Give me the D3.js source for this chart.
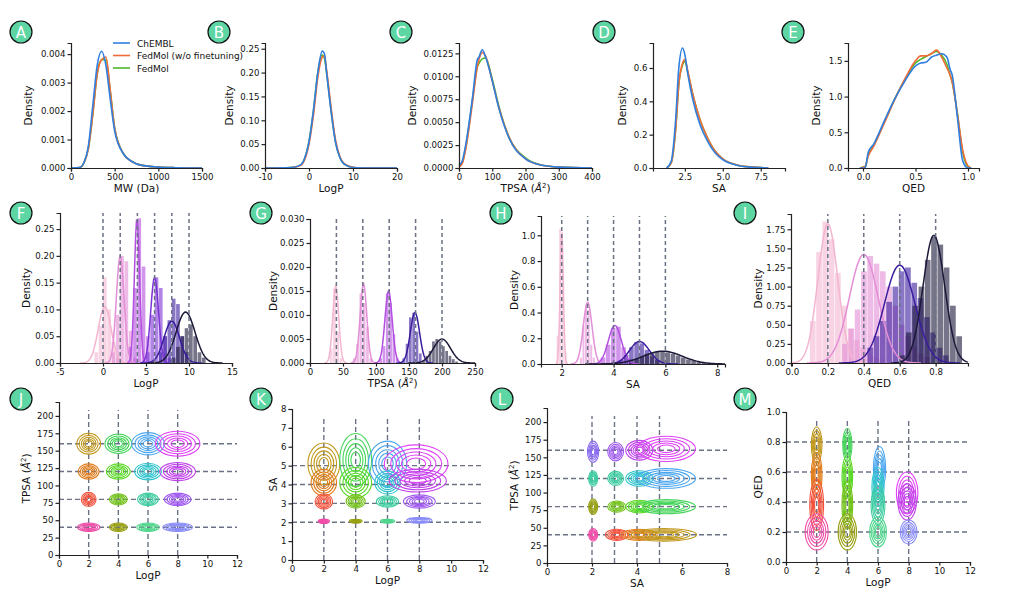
<!DOCTYPE html>
<html><head><meta charset="utf-8">
<script src="https://cdn.jsdelivr.net/npm/d3@7"></script>
<style>body{margin:0;background:#fff}text{font-family:"DejaVu Sans",sans-serif;fill:#111}</style>
</head><body><svg id="c" width="1013" height="609"></svg>
<script>
// ---------- Row 1 data ----------
const mwX=[0,100,150,200,250,300,350,400,450,500,600,700,800,1000,1200,1500];
const mwChembl=[0,0.00002,0.0002,0.0008,0.0022,0.0036,0.0041,0.0036,0.0024,0.0013,0.0005,0.00022,0.0001,0.00003,0.00001,0];
const mwFed0=[0,0.00002,0.0002,0.0007,0.0019,0.0033,0.0038,0.0039,0.0027,0.0014,0.0005,0.00022,0.0001,0.00003,0.00001,0];
const mwFed=[0,0.00002,0.0002,0.0007,0.0019,0.0033,0.0038,0.0038,0.0027,0.0014,0.0005,0.00023,0.0001,0.00003,0.00001,0];
const lpX=[-10,-4,-2,-1,0,1,2,3,3.5,4,5,6,7,8,10,12,20];
const lpChembl=[0,0.001,0.006,0.02,0.055,0.12,0.2,0.245,0.24,0.2,0.12,0.055,0.022,0.008,0.001,0,0];
const lpFed0=[0,0.001,0.005,0.017,0.05,0.11,0.19,0.232,0.235,0.205,0.128,0.06,0.024,0.009,0.0015,0,0];
const lpFed=[0,0.001,0.006,0.02,0.056,0.12,0.2,0.237,0.23,0.2,0.122,0.056,0.023,0.008,0.0012,0,0];
const tpX=[0,10,20,40,55,60,70,80,100,120,150,200,250,300,400];
const tpChembl=[0.0003,0.0008,0.0025,0.0075,0.0118,0.0121,0.0129,0.0121,0.0095,0.0065,0.0033,0.001,0.0003,0.0001,0];
const tpFed0=[0.0001,0.0005,0.002,0.007,0.011,0.0118,0.0126,0.0122,0.0095,0.0066,0.0034,0.001,0.0003,0.0001,0];
const tpFed=[0.0002,0.0006,0.0022,0.0073,0.011,0.0114,0.0119,0.012,0.0097,0.0067,0.0034,0.0011,0.0003,0.0001,0];
const saX=[1.3,1.6,1.9,2.1,2.35,2.5,2.7,3,3.5,4,4.5,5,6,7,8];
const saChembl=[0,0.04,0.3,0.6,0.72,0.68,0.56,0.42,0.26,0.16,0.09,0.05,0.015,0.004,0];
const saFed0=[0,0.03,0.24,0.5,0.63,0.65,0.58,0.45,0.29,0.18,0.1,0.055,0.017,0.005,0];
const saFed=[0,0.03,0.24,0.5,0.62,0.64,0.57,0.45,0.29,0.18,0.1,0.055,0.017,0.005,0];
const qX=[-0.03,0.02,0.05,0.1,0.2,0.3,0.4,0.5,0.55,0.6,0.65,0.7,0.75,0.8,0.83,0.85,0.9,0.95,1.0,1.03];
const qChembl=[0,0,0.22,0.33,0.65,0.96,1.22,1.43,1.47,1.48,1.55,1.58,1.6,1.55,1.38,1.3,0.7,0.1,0,0];
const qFed0=[0,0.02,0.17,0.3,0.62,0.95,1.25,1.5,1.57,1.57,1.6,1.65,1.55,1.4,1.3,1.2,0.75,0.25,0.03,0];
const qFed=[0,0.02,0.18,0.31,0.63,0.96,1.24,1.47,1.52,1.56,1.6,1.63,1.58,1.45,1.3,1.2,0.75,0.22,0.02,0];
const seriesNames=["ChEMBL","FedMol (w/o finetuning)","FedMol"];
const seriesColors=["#2f7fe0","#f26b38","#4cb82a"];

// ---------- Row 2 data: [mean, sd, peak] curve params, bars: x0, width, heights ----------
const distColors6=["#f3b5d0","#e38ed6","#b34fe0","#7c33d6","#3a1c9e","#1b1838"];
const fTargets=[0,2,4,6,8,10];
const fCurves=[[0.2,0.75,0.105],[2,0.45,0.2],[3.95,0.3,0.27],[6,0.45,0.16],[8,0.9,0.078],[9.6,1.1,0.095]];
const fBars=[[-1,0.5,[0.02,0.07,0.16,0.1,0.04,0.01]],[1,0.5,[0.02,0.09,0.2,0.19,0.06,0.01]],[3,0.5,[0.03,0.14,0.27,0.18,0.05]],[5,0.5,[0.02,0.09,0.16,0.14,0.05,0.01]],[6.5,0.5,[0.02,0.05,0.08,0.12,0.11,0.05,0.02]],[8,0.5,[0.01,0.03,0.05,0.065,0.072,0.05,0.02,0.01]]];
const gTargets=[40,80,120,160,200];
const gCurves=[[39,4.5,0.016],[81,5,0.0165],[119,5.5,0.015],[159,7,0.0105],[200,13,0.005]];
const gBars=[[30,5,[0.003,0.0155,0.0065,0.001]],[65,5,[0.001,0.004,0.0145,0.0125,0.0075,0.001]],[105,5,[0.001,0.0035,0.0145,0.0125,0.006,0.001]],[140,5,[0.001,0.004,0.0095,0.0105,0.0065,0.002]],[170,5,[0.0005,0.0015,0.0025,0.0045,0.005,0.0045,0.0035,0.0025,0.0015,0.0008,0.0003]]];
const hTargets=[2,3,4,5,6];
const hCurves=[[2,0.06,1.05],[3.0,0.17,0.48],[4.05,0.25,0.3],[5.0,0.38,0.175],[5.9,0.75,0.1]];
const hBars=[[1.8,0.1,[0.22,1.05,0.7,0.1]],[2.7,0.1,[0.05,0.3,0.46,0.42,0.15,0.05]],[3.5,0.2,[0.05,0.15,0.28,0.29,0.13,0.04]],[4.2,0.2,[0.03,0.07,0.13,0.17,0.16,0.11,0.06,0.03]],[4.6,0.2,[0.02,0.04,0.06,0.08,0.09,0.1,0.095,0.09,0.08,0.065,0.05,0.035,0.025,0.015,0.01,0.005]]];
const iTargets=[0.2,0.4,0.6,0.8];
const iCurves=[[0.2,0.055,1.82],[0.4,0.08,1.42],[0.6,0.085,1.28],[0.79,0.06,1.67]];
const iBars=[[0.1,0.035,[0.55,1.45,1.85,1.62,1.18,0.75,0.45,0.3,0.2,0.12,0.08,0.05]],[0.28,0.035,[0.25,0.45,0.7,1.2,1.4,1.3,1.2,1.0,0.75,0.5,0.35,0.22,0.12,0.08]],[0.42,0.035,[0.2,0.35,0.55,0.8,1.0,1.2,1.25,1.05,0.85,0.6,0.4,0.2,0.1]],[0.6,0.035,[0.1,0.4,0.75,1.0,1.35,1.65,1.55,1.25,0.75,0.35]]];

// ---------- Row 3 data: blobs [cx, cy, rx, ry, color] ----------
const C={gold:"#c0981c",green:"#45d45a",blue:"#4aa6f0",mag:"#e040f8",orange:"#e07c1c",lime:"#5ad826",cyan:"#2ec4cc",pmag:"#c042ea",red:"#f4503a",ygreen:"#72c21a",teal:"#3dcca0",purple:"#a05af0",pink:"#f04ca8",olive:"#98a012",gteal:"#4fd68c",lav:"#8a8cf8",vio:"#8a6cf0"};
const jBlobs=[[2,160,0.8,15,C.gold],[4,160,0.9,14,C.green],[6,160,1.1,16,C.blue],[8,160,1.5,18,C.mag],[2,120,0.7,11,C.orange],[4,120,0.8,11,C.lime],[6,120,0.9,12,C.cyan],[8,120,1.2,13,C.pmag],[2,80,0.5,10,C.red],[4,80,0.6,8,C.ygreen],[6,80,0.7,9,C.teal],[8,80,0.9,9,C.purple],[2,40,0.75,6,C.pink],[4,40,0.6,6,C.olive],[6,40,0.75,6,C.gteal],[8,40,1.0,6,C.lav]];
const kBlobs=[[2,5.1,1.0,1.1,C.gold],[4,5.3,1.0,1.4,C.green],[6,5.1,1.2,1.2,C.blue],[7.8,5.1,2.0,1.0,C.mag],[2,4.1,0.8,0.7,C.orange],[4,4.1,1.0,0.8,C.lime],[6,4.1,0.8,0.6,C.cyan],[7.9,4.2,1.8,0.6,C.pmag],[2,3.1,0.55,0.4,C.red],[4,3.1,0.6,0.35,C.ygreen],[6,3.1,0.7,0.3,C.teal],[8,3.1,1.0,0.35,C.purple],[2,2.05,0.35,0.12,C.pink],[4,2.05,0.4,0.1,C.olive],[6,2.05,0.45,0.1,C.gteal],[8,2.1,0.8,0.15,C.lav]];
const lBlobs=[[2.05,158,0.25,15,C.vio],[3.05,158,0.35,13,C.purple],[4.1,160,0.6,14,C.pmag],[5.3,162,1.3,18,C.mag],[2.05,120,0.2,11,C.teal],[3.05,120,0.35,10,C.teal],[4.1,120,0.6,11,C.cyan],[5.3,120,1.3,14,C.blue],[2.05,80,0.2,11,C.olive],[3.1,80,0.4,8,C.ygreen],[4.1,80,0.6,9,C.lime],[5.3,80,1.3,10,C.green],[2.05,40,0.2,9,C.pink],[3.1,40,0.5,8,C.red],[4.1,40,0.8,8,C.orange],[5.2,40,1.45,9,C.gold]];
const mBlobs=[[2,0.78,0.35,0.12,C.gold],[2,0.58,0.35,0.15,C.orange],[2,0.38,0.45,0.17,C.red],[2,0.2,0.75,0.12,C.pink],[4,0.78,0.3,0.11,C.green],[4,0.57,0.35,0.14,C.lime],[4,0.38,0.35,0.16,C.ygreen],[4,0.2,0.6,0.12,C.olive],[6.1,0.62,0.4,0.15,C.blue],[6,0.5,0.4,0.13,C.cyan],[6,0.38,0.45,0.13,C.teal],[6,0.2,0.55,0.1,C.gteal],[7.9,0.46,0.7,0.14,C.mag],[7.9,0.4,0.6,0.12,C.pmag],[8,0.2,0.55,0.08,C.lav]];
const contourLevels=[1,0.8,0.62,0.46,0.3];

const svg=d3.select("#c");
const dashC="#6b7285";
function axes(o){
  const x=d3.scaleLinear().domain(o.xd).range([o.x0,o.x1]);
  const y=d3.scaleLinear().domain(o.yd).range([o.y0,o.y1]);
  const g=svg.append("g");
  const ax=g.append("g").attr("transform",`translate(0,${o.y0})`).call(d3.axisBottom(x).tickValues(o.xt).tickFormat(o.xf||(d=>d)).tickSize(3.5).tickPadding(2));
  const ay=g.append("g").attr("transform",`translate(${o.x0},0)`).call(d3.axisLeft(y).tickValues(o.yt).tickFormat(o.yf).tickSize(3.5).tickPadding(2));
  [ax,ay].forEach(a=>{a.selectAll("path,line").attr("stroke","#222").attr("stroke-width",1.2);a.selectAll("text").style("font-size","8.6px").attr("fill","#111");});
  g.append("text").attr("x",(o.x0+o.x1)/2).attr("y",o.y0+24).attr("text-anchor","middle").style("font-size","10.5px").html(o.xl);
  g.append("text").attr("transform",`translate(${o.ylx},${(o.y0+o.y1)/2}) rotate(-90)`).attr("text-anchor","middle").style("font-size","10.5px").html(o.yl);
  const ca=g.insert("g",":first-child");
  return {x,y,g:ca};
}
function badge(cx,cy,t){
  svg.append("circle").attr("cx",cx).attr("cy",cy).attr("r",11).attr("fill","#5dd6a4").attr("stroke","#111").attr("stroke-width",1.2);
  svg.append("text").attr("x",cx).attr("y",cy+5.5).attr("text-anchor","middle").style("font-size","15px").style("fill","#fff").text(t);
}
const tpsaLbl='TPSA (<tspan font-style="italic">Å</tspan><tspan dy="-4" font-size="7">2</tspan><tspan dy="4">)</tspan>';
function row1(o,xs,sets){
  const a=axes(o);
  const line=d3.line().x((d,i)=>a.x(xs[i])).y(d=>a.y(d)).curve(d3.curveMonotoneX);
  sets.slice().reverse().forEach((s,k)=>{const i=2-k;a.g.append("path").attr("d",line(s)).attr("fill","none").attr("stroke",seriesColors[i]).attr("stroke-width",1.6);});
}
const f3=d3.format(".3f"),f4=d3.format(".4f"),f2=d3.format(".2f"),f1=d3.format(".1f");
row1({xd:[0,1500],x0:71,x1:202,yd:[0,0.00439],y0:168,y1:43,xt:[0,500,1000,1500],yt:[0,0.001,0.002,0.003,0.004],yf:f3,xl:"MW (Da)",yl:"Density",ylx:32},mwX,[mwChembl,mwFed0,mwFed]);
row1({xd:[-10,20],x0:265,x1:397,yd:[0,0.262],y0:168,y1:43,xt:[-10,0,10,20],yt:[0,0.05,0.1,0.15,0.2,0.25],yf:f2,xl:"LogP",yl:"Density",ylx:233},lpX,[lpChembl,lpFed0,lpFed]);
row1({xd:[0,400],x0:459,x1:592,yd:[0,0.01363],y0:168,y1:43,xt:[0,100,200,300,400],yt:[0,0.0025,0.005,0.0075,0.01,0.0125],yf:f4,xl:tpsaLbl,yl:"Density",ylx:416},tpX,[tpChembl,tpFed0,tpFed]);
row1({xd:[0.4,9.1],x0:653,x1:785,yd:[0,0.75],y0:168,y1:43,xt:[2.5,5,7.5],xf:f1,yt:[0,0.2,0.4,0.6],yf:f1,xl:"SA",yl:"Density",ylx:626},saX,[saChembl,saFed0,saFed]);
row1({xd:[-0.143,1.105],x0:848,x1:979,yd:[0,1.75],y0:168,y1:43,xt:[0,0.5,1],xf:f1,yt:[0,0.5,1,1.5],yf:f1,xl:"QED",yl:"Density",ylx:820},qX,[qChembl,qFed0,qFed]);
seriesNames.forEach((n,i)=>{const y=43+i*12.5;svg.append("line").attr("x1",113).attr("x2",130).attr("y1",y).attr("y2",y).attr("stroke",seriesColors[i]).attr("stroke-width",1.6);svg.append("text").attr("x",137).attr("y",y+3.5).style("font-size","9px").text(n);});
function row2(o,targets,curves,bars,cols){
  const a=axes(o);
  bars.forEach((b,i)=>{b[2].forEach((h,j)=>{const xs=b[0]+j*b[1];a.g.append("rect").attr("x",a.x(xs)).attr("width",Math.max(0.5,a.x(xs+b[1])-a.x(xs)-0.6)).attr("y",a.y(h)).attr("height",a.y(0)-a.y(h)).attr("fill",cols[i]).attr("opacity",0.6);});});
  const [lo,hi]=o.xd;
  curves.forEach((c,i)=>{const pts=d3.range(0,201).map(k=>{const xv=lo+(hi-lo)*k/200;return [xv,c[2]*Math.exp(-0.5*((xv-c[0])/c[1])**2)];}).filter(p=>Math.abs(p[0]-c[0])<4*c[1]);
    a.g.append("path").attr("d",d3.line().x(p=>a.x(p[0])).y(p=>a.y(p[1]))(pts)).attr("fill","none").attr("stroke",cols[i]).attr("stroke-width",1.5);});
  targets.forEach(t=>a.g.append("line").attr("x1",a.x(t)).attr("x2",a.x(t)).attr("y1",o.y0).attr("y2",o.y1).attr("stroke",dashC).attr("stroke-width",1.5).attr("stroke-dasharray","4,3"));
}
const c5=[distColors6[0],distColors6[1],distColors6[2],distColors6[4],distColors6[5]];
const c4=[distColors6[0],distColors6[1],distColors6[4],distColors6[5]];
row2({xd:[-5,15],x0:60,x1:232,yd:[0,0.28],y0:363,y1:213,xt:[-5,0,5,10,15],yt:[0,0.05,0.1,0.15,0.2,0.25],yf:f2,xl:"LogP",yl:"Density",ylx:30},fTargets,fCurves,fBars,distColors6);
row2({xd:[0,250],x0:310,x1:475,yd:[0,0.030],y0:363,y1:219,xt:[0,50,100,150,200,250],yt:[0,0.005,0.01,0.015,0.02,0.025,0.03],yf:f3,xl:tpsaLbl,yl:"Density",ylx:277},gTargets,gCurves,gBars,c5);
row2({xd:[1.2,8.3],x0:541,x1:725,yd:[0,1.15],y0:364,y1:216,xt:[2,4,6,8],yt:[0,0.2,0.4,0.6,0.8,1.0],yf:f1,xl:"SA",yl:"Density",ylx:518},hTargets,hCurves,hBars,c5);
row2({xd:[-0.005,0.98],x0:791,x1:968,yd:[0,1.95],y0:363,y1:214,xt:[0,0.2,0.4,0.6,0.8],xf:f1,yt:[0,0.25,0.5,0.75,1,1.25,1.5,1.75],yf:f2,xl:"QED",yl:"Density",ylx:762},iTargets,iCurves,iBars,c4);
function row3(o,vt,ht,blobs){
  const a=axes(o);
  vt.forEach(t=>a.g.append("line").attr("x1",a.x(t)).attr("x2",a.x(t)).attr("y1",o.y0).attr("y2",o.y1+8).attr("stroke",dashC).attr("stroke-width",1.4).attr("stroke-dasharray","5,3"));
  ht.forEach(t=>a.g.append("line").attr("x1",o.x0).attr("x2",o.x1).attr("y1",a.y(t)).attr("y2",a.y(t)).attr("stroke",dashC).attr("stroke-width",1.4).attr("stroke-dasharray","5,3"));
  blobs.forEach(b=>contourLevels.forEach(s=>{a.g.append("ellipse").attr("cx",a.x(b[0])).attr("cy",a.y(b[1])).attr("rx",Math.abs(a.x(b[2]*s)-a.x(0))).attr("ry",Math.abs(a.y(0)-a.y(b[3]*s))).attr("fill","none").attr("stroke",b[4]).attr("stroke-width",1.1);}));
}
row3({xd:[0,12],x0:59,x1:237,yd:[0,220],y0:555,y1:402,xt:[0,2,4,6,8,10,12],yt:[0,25,50,75,100,125,150,175,200],yf:d=>d,xl:"LogP",yl:tpsaLbl,ylx:30},[2,4,6,8],[40,80,120,160],jBlobs);
row3({xd:[0,12],x0:292,x1:483,yd:[0,8],y0:560,y1:409,xt:[0,2,4,6,8,10,12],yt:[0,1,2,3,4,5,6,7,8],yf:d=>d,xl:"LogP",yl:"SA",ylx:277},[2,4,6,8],[2,3,4,5],kBlobs);
row3({xd:[0,8],x0:547,x1:727,yd:[0,220],y0:563,y1:408,xt:[0,2,4,6,8],yt:[0,25,50,75,100,125,150,175,200],yf:d=>d,xl:"SA",yl:tpsaLbl,ylx:518},[2,3,4,5],[40,80,120,160],lBlobs);
row3({xd:[0,12],x0:786,x1:970,yd:[0,1.0],y0:562,y1:412,xt:[0,2,4,6,8,10,12],yt:[0,0.2,0.4,0.6,0.8,1.0],yf:f1,xl:"LogP",yl:"QED",ylx:762},[2,4,6,8],[0.2,0.4,0.6,0.8],mBlobs);
[["A",21,32],["B",219,32],["C",401,32],["D",604,32],["E",793,32],["F",21,213],["G",261,213],["H",501,213],["I",745,213],["J",21,399],["K",261,399],["L",502,399],["M",745,399]].forEach(b=>badge(b[1],b[2],b[0]));
</script></body></html>
